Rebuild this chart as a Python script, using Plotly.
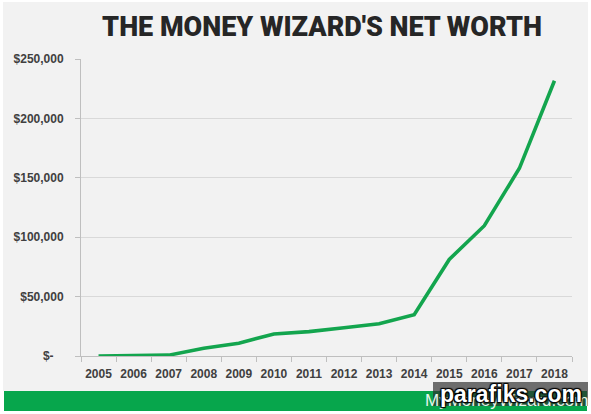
import plotly.graph_objects as go

years = ["2005", "2006", "2007", "2008", "2009", "2010", "2011",
         "2012", "2013", "2014", "2015", "2016", "2017", "2018"]
net_worth = [0, 300, 700, 6500, 10800, 18500, 20500,
             23800, 27200, 34700, 81300, 109700, 158000, 231700]
y_tick_vals = [0, 50000, 100000, 150000, 200000, 250000]
y_tick_text = ["$-   ", "$50,000", "$100,000", "$150,000", "$200,000", "$250,000"]
title_text = "THE MONEY WIZARD'S NET WORTH"
footer_text = "MyMoneyWizard.com"
watermark_text = "parafiks.com"

W, H = 591, 414
L, R, T, B = 81, 19, 59, 58
PW, PH = W - L - R, H - T - B


def px(x):
    return (x - L) / PW


def py(y):
    return (H - B - y) / PH


fig = go.Figure()
fig.add_trace(go.Scatter(
    x=years, y=net_worth, mode="lines",
    line=dict(color="#13a54e", width=3.6),
    hoverinfo="skip", showlegend=False,
))

shapes = [
    dict(type="rect", xref="paper", yref="paper", layer="below",
         x0=px(3), x1=px(588), y0=py(391), y1=py(2),
         fillcolor="#f2f2f2", line=dict(width=0)),
    dict(type="rect", xref="paper", yref="paper", layer="above",
         x0=px(4), x1=px(587), y0=py(411), y1=py(391),
         fillcolor="#07a64c", line=dict(width=0)),
    dict(type="rect", xref="paper", yref="paper", layer="above",
         x0=px(433), x1=px(588), y0=py(406), y1=py(382),
         fillcolor="rgba(45,45,45,0.68)", line=dict(width=0)),
]
annotations = [
    dict(text=footer_text, xref="paper", yref="paper", x=px(506), y=py(400),
         showarrow=False, font=dict(family="Liberation Sans", size=17, color="#e8f5ec"),
         xanchor="center", yanchor="middle"),
    dict(text="<b>" + watermark_text + "</b>", xref="paper", yref="paper",
         x=px(511), y=py(394), showarrow=False,
         font=dict(family="Liberation Sans", size=23, color="white",
                   shadow="1px 1px 1px black, -1px -1px 1px black, 1px -1px 1px black, -1px 1px 1px black"),
         xanchor="center", yanchor="middle"),
]

fig.update_layout(
    width=W, height=H,
    margin=dict(l=L, r=R, t=T, b=B, pad=0),
    paper_bgcolor="white", plot_bgcolor="rgba(0,0,0,0)",
    title=dict(text=title_text, x=px(322), xref="paper", xanchor="center",
               y=1 - 27 / H, yanchor="middle",
               font=dict(family="Roboto", size=27, color="#262626", weight=900)),
    shapes=shapes, annotations=annotations,
    xaxis=dict(type="category", range=[-0.5, 13.5], showgrid=False,
               showline=True, linecolor="#bfbfbf", linewidth=1,
               ticks="outside", tickson="boundaries", ticklen=5, tickcolor="#bfbfbf",
               ticklabelstandoff=7, tickangle=0,
               tickfont=dict(family="Liberation Sans", size=12, color="#404040", weight="bold"),
               fixedrange=True),
    yaxis=dict(range=[0, 250000], tickvals=y_tick_vals, ticktext=y_tick_text,
               showgrid=True, gridcolor="#d9d9d9", gridwidth=1,
               showline=True, linecolor="#bfbfbf", linewidth=1, zeroline=False,
               ticks="outside", ticklen=5, tickcolor="#bfbfbf", ticklabelstandoff=9,
               tickfont=dict(family="Liberation Sans", size=12, color="#404040", weight="bold"),
               fixedrange=True),
)

fig.write_html("out.html", config={"displayModeBar": False},
               post_script="document.body.style.margin='0px';")
